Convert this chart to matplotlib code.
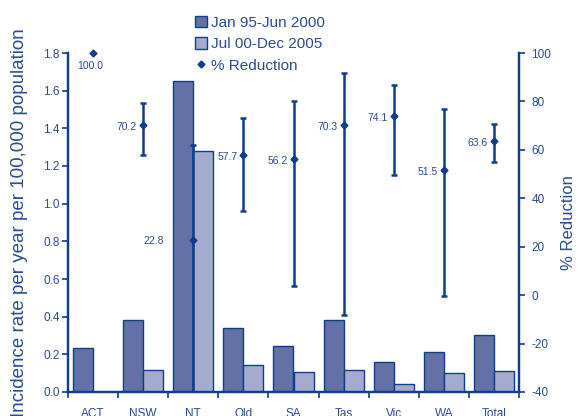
import matplotlib
matplotlib.use("Agg")
import matplotlib.pyplot as plt
from matplotlib.patches import Patch
from matplotlib.lines import Line2D
import numpy as np

plt.rcParams['font.family'] = ['Liberation Sans', 'DejaVu Sans']
plt.rcParams['axes.unicode_minus'] = False

states = ['ACT', 'NSW', 'NT', 'Qld', 'SA', 'Tas', 'Vic', 'WA', 'Total']
rate_early = [0.235, 0.384, 1.652, 0.342, 0.244, 0.384, 0.158, 0.212, 0.303]
rate_late = [0.0, 0.115, 1.280, 0.143, 0.107, 0.115, 0.041, 0.101, 0.111]
reduction = [100.0, 70.2, 22.8, 57.7, 56.2, 70.3, 74.1, 51.5, 63.6]
red_low = [np.nan, 57.9, -45.0, 34.8, 3.9, -8.1, 49.6, -0.3, 55.1]
red_high = [np.nan, 79.2, 62.0, 73.1, 80.2, 91.9, 86.8, 76.9, 70.7]
legend_names = ['Jan 95-Jun 2000', 'Jul 00-Dec 2005', '% Reduction']

navy = '#0f3d8a'
txt = '#2a4b8f'
dark_fill = '#6371a6'
light_fill = '#a4abcf'

fig = plt.figure(figsize=(5.78, 4.16), dpi=100)
ax = fig.add_axes([68/578, 24/416, 451/578, 339/416])
ax2 = ax.twinx()

x = np.arange(len(states))
w = 0.4
ax.bar(x - w/2, rate_early, w, color=dark_fill, edgecolor=navy, linewidth=1.0)
ax.bar(x + w/2, rate_late, w, color=light_fill, edgecolor=navy, linewidth=1.0)

ax.set_xlim(-0.5, len(states) - 0.5)
ax.set_ylim(0, 1.8)
ax.set_yticks(np.arange(0, 1.81, 0.2))
ax.set_yticklabels(['%.1f' % v for v in np.arange(0, 1.81, 0.2)])
ax.set_xticks(np.arange(len(states) + 1) - 0.5)
ax.set_xticklabels([])
ax.set_xticks(x, minor=True)
ax.set_xticklabels(states, minor=True)
ax.tick_params(axis='x', which='major', direction='out', length=4, width=1.2, color=navy)
ax.tick_params(axis='x', which='minor', length=0, pad=11.5, labelsize=8.5, labelcolor=txt)
ax.tick_params(axis='y', direction='out', length=4, width=1.2, color=navy,
               labelsize=8.5, labelcolor=txt, pad=2)
ax.set_ylabel('Incidence rate per year per 100,000 population', fontsize=13.5, color=txt)
ax.yaxis.set_label_coords(-0.089, 0.5)

for a in (ax, ax2):
    a.spines['top'].set_visible(False)
    for s in ('left', 'right', 'bottom'):
        a.spines[s].set_color(navy)
        a.spines[s].set_linewidth(1.6)

# % reduction with confidence ranges on the right axis
red = np.array(reduction)
lo = np.array(red_low)
hi = np.array(red_high)
has_ci = ~np.isnan(lo)
ax2.errorbar(x[has_ci], red[has_ci], yerr=[red[has_ci] - lo[has_ci], hi[has_ci] - red[has_ci]],
             fmt='none', ecolor=navy, elinewidth=1.8, capsize=2, capthick=1.8, zorder=3)
ax2.plot(x, red, linestyle='none', marker='D', markersize=3.5, color=navy, zorder=4,
         clip_on=False)
ax2.set_ylim(-40, 100)
ax2.set_yticks(np.arange(-40, 101, 20))
ax2.tick_params(axis='y', direction='out', length=4, width=1.2, color=navy,
                labelsize=8.5, labelcolor=txt, pad=5)
ax2.set_ylabel('% Reduction', fontsize=12, color=txt)
ax2.yaxis.set_label_coords(1.093, 0.5)

for i, v in enumerate(reduction):
    if i == 0:
        off, ha, va = (-3, -13), 'center', 'center'
    elif states[i] == 'NT':
        off, ha, va = (-29, -1), 'right', 'center'
    else:
        off, ha, va = (-6, -2), 'right', 'center'
    ax2.annotate('%.1f' % v, (x[i], v), xytext=off, textcoords='offset pixels',
                 ha=ha, va=va, fontsize=7.5, color=txt)

handles = [Patch(facecolor=dark_fill, edgecolor=navy),
           Patch(facecolor=light_fill, edgecolor=navy),
           Line2D([], [], linestyle='none', marker='D', markersize=3.5, color=navy)]
fig.legend(handles, legend_names, loc='upper left', bbox_to_anchor=(184/578, 1 - 5/416),
           frameon=False, fontsize=11, labelcolor=txt, handlelength=0.8, handleheight=0.8,
           handletextpad=0.25, labelspacing=0.48, borderpad=0.2)

fig.savefig('out.png', dpi=100)
